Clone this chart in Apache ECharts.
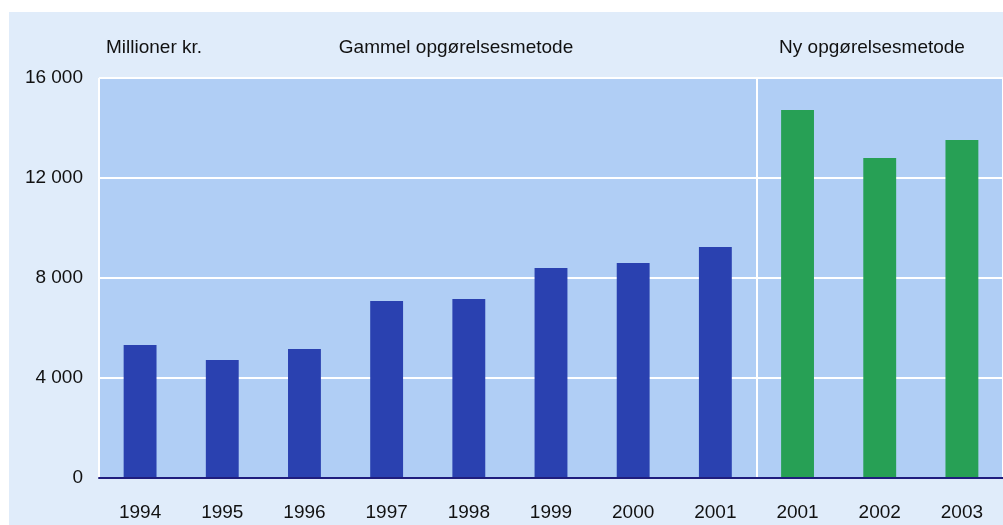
<!DOCTYPE html>
<html>
<head>
<meta charset="utf-8">
<title>Millioner kr.</title>
<script src="https://cdn.jsdelivr.net/npm/echarts@6/dist/echarts.min.js"></script>
<style>
  html, body { margin: 0; padding: 0; background: #ffffff; }
  #chart { width: 1003px; height: 525px; }
</style>
</head>
<body>
<div id="chart"></div>
<script>
// data
var years = ['1994', '1995', '1996', '1997', '1998', '1999', '2000', '2001', '2001', '2002', '2003'];
var oldMethod = [5320, 4720, 5160, 7080, 7160, 8400, 8600, 9240];   // Gammel opgørelsesmetode
var newMethod = [14720, 12800, 13520];                               // Ny opgørelsesmetode
var yTicks = [0, 4000, 8000, 12000, 16000];

var FONT = "'Liberation Sans', Arial, sans-serif";
var FS = 19;

// pad both series to the full category list
var oldData = years.map(function (y, i) { return i < oldMethod.length ? oldMethod[i] : '-'; });
var newData = years.map(function (y, i) {
  var j = i - oldMethod.length;
  return j >= 0 ? newMethod[j] : '-';
});

var chart = echarts.init(document.getElementById('chart'));

var option = {
  backgroundColor: '#ffffff',
  animation: false,
  graphic: [
    { type: 'rect', left: 9, top: 12, z: -10, shape: { width: 994, height: 513 }, style: { fill: '#e0ecfa' } },
    { type: 'text', x: 106, y: 48, style: { text: 'Millioner kr.', font: FS + 'px ' + FONT, fill: '#111', textVerticalAlign: 'middle' } },
    { type: 'text', x: 456, y: 48, style: { text: 'Gammel opgørelsesmetode', font: FS + 'px ' + FONT, fill: '#111', textAlign: 'center', textVerticalAlign: 'middle' } },
    { type: 'text', x: 872, y: 48, style: { text: 'Ny opgørelsesmetode', font: FS + 'px ' + FONT, fill: '#111', textAlign: 'center', textVerticalAlign: 'middle' } }
  ],
  grid: {
    left: 99, right: 0, top: 78, bottom: 47,
    show: true, backgroundColor: '#b0cef5', borderWidth: 0
  },
  xAxis: {
    type: 'category',
    data: years,
    axisLine: { show: true, lineStyle: { color: '#1f1d7d', width: 2 } },
    axisTick: { show: false },
    axisLabel: { color: '#111', fontFamily: FONT, fontSize: FS, margin: 25 },
    splitLine: {
      show: true,
      interval: function (index) { return index === 0 || index === oldMethod.length; },
      lineStyle: { color: '#ffffff', width: 2 }
    },
    z: 5
  },
  yAxis: {
    type: 'value',
    min: yTicks[0],
    max: yTicks[yTicks.length - 1],
    interval: 4000,
    axisLine: { show: false },
    axisTick: { show: false },
    axisLabel: {
      color: '#111', fontFamily: FONT, fontSize: FS, margin: 16,
      formatter: function (v) { return String(v).replace(/\B(?=(\d{3})+(?!\d))/g, ' '); }
    },
    splitLine: { lineStyle: { color: '#ffffff', width: 2 } }
  },
  series: [
    {
      name: 'Gammel opgørelsesmetode',
      type: 'bar',
      stack: 'total',
      barWidth: '40%',
      itemStyle: { color: '#2a41b0' },
      data: oldData,
      z: 3
    },
    {
      name: 'Ny opgørelsesmetode',
      type: 'bar',
      stack: 'total',
      barWidth: '40%',
      itemStyle: { color: '#27a055' },
      data: newData,
      z: 3
    }
  ]
};

chart.setOption(option);
</script>
</body>
</html>
